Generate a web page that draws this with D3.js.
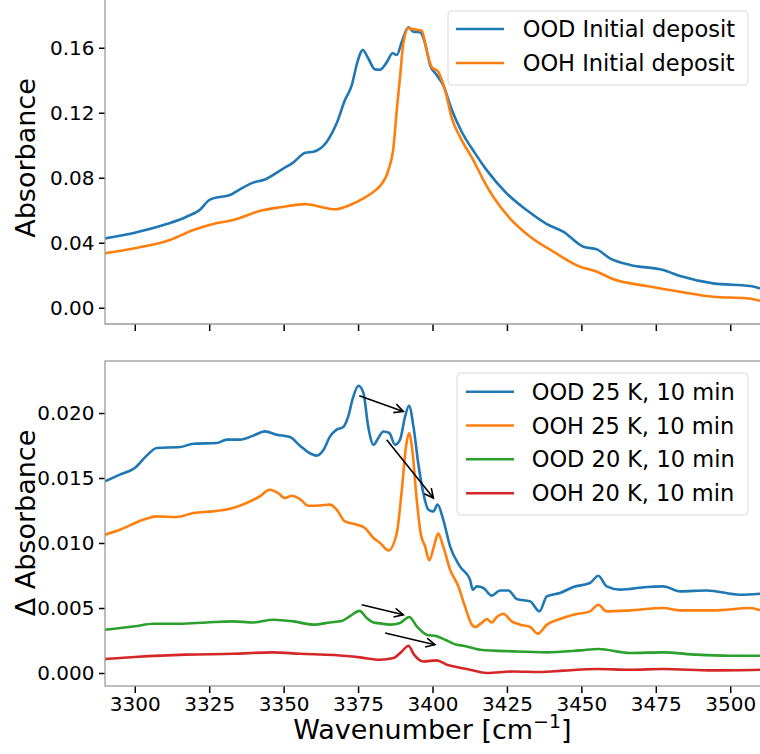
<!DOCTYPE html>
<html>
<head>
<meta charset="utf-8">
<script src="https://cdn.jsdelivr.net/npm/d3@7"></script>
<style>
  body { margin: 0; background: #fff; }
  svg { display: block; font-family: "DejaVu Sans", sans-serif; }
</style>
</head>
<body>
<div id="chart"></div>
<script>
// Top panel: initial deposits, [wavenumber, absorbance]
const oodInitial = [
  [3290, 0.0427], [3300, 0.0462], [3310.7, 0.0515], [3317.4, 0.056], [3322, 0.0605],
  [3325, 0.0663], [3326.3, 0.0673], [3332, 0.0694], [3335.3, 0.0729], [3339.8, 0.077],
  [3343.2, 0.0786], [3350, 0.0858], [3353.3, 0.0895], [3357.3, 0.0954], [3360, 0.096],
  [3364.5, 0.1022], [3367.8, 0.1135], [3370.6, 0.1278], [3372.9, 0.137], [3374.6, 0.150],
  [3376.6, 0.1586], [3378.4, 0.1535], [3380.7, 0.1467], [3382.4, 0.1465], [3384.6, 0.151],
  [3386.6, 0.1566], [3388, 0.1555], [3389.7, 0.1637], [3391.9, 0.1726], [3393.6, 0.1698],
  [3395.8, 0.1695], [3397.5, 0.1627], [3399.2, 0.1494], [3401.4, 0.1432], [3403.6, 0.137],
  [3406.5, 0.1217], [3409.8, 0.1083], [3414.3, 0.095], [3418.2, 0.0847], [3424.9, 0.0704],
  [3431.6, 0.0601], [3438.4, 0.0515], [3443.9, 0.0468], [3450.7, 0.0375], [3455.2, 0.0359],
  [3459.6, 0.0304], [3466.4, 0.0263], [3477.5, 0.0232], [3483.2, 0.0195], [3494.3, 0.015],
  [3506.7, 0.0134], [3510, 0.0119]
];
const oohInitial = [
  [3290, 0.0335], [3300, 0.0366], [3311.8, 0.0417], [3319.7, 0.0478], [3326.3, 0.0515],
  [3333, 0.054], [3343.2, 0.0601], [3348.8, 0.0618], [3357.3, 0.0638], [3362.2, 0.0622],
  [3367.3, 0.0606], [3372.3, 0.0632], [3376.8, 0.0673], [3380.2, 0.0714], [3382.4, 0.075],
  [3385.2, 0.0847], [3386.9, 0.099], [3388, 0.1217], [3389.1, 0.1421], [3390.2, 0.1627],
  [3391.9, 0.172], [3394.1, 0.1713], [3396.4, 0.1705], [3398, 0.1586], [3399.7, 0.1483],
  [3401.9, 0.1452], [3404.2, 0.134], [3406.5, 0.1166], [3409.8, 0.1032], [3413.7, 0.0909],
  [3417.1, 0.0786], [3420.4, 0.0683], [3426, 0.055], [3432.8, 0.0437], [3440.6, 0.0345],
  [3449.6, 0.0252], [3455.2, 0.0222], [3460.8, 0.0175], [3472, 0.0134], [3483.2, 0.0098],
  [3494.3, 0.0068], [3505.5, 0.0058], [3510, 0.0043]
];

// Bottom panel: difference spectra, [wavenumber, delta absorbance]
const ood25 = [
  [3290, 0.01474], [3295, 0.01526], [3300, 0.01577], [3304, 0.01672], [3307.4, 0.01731],
  [3315.2, 0.01738], [3319.7, 0.01764], [3327.5, 0.01769], [3330.9, 0.01795], [3335.3, 0.01795],
  [3339.8, 0.01826], [3343.7, 0.01859], [3347.7, 0.01833], [3352.1, 0.01815], [3355.5, 0.01749],
  [3358.3, 0.01697], [3361.1, 0.01672], [3363.3, 0.01713], [3365.6, 0.0182], [3367.8, 0.01872],
  [3370, 0.01892], [3371.7, 0.01974], [3373.2, 0.02110], [3375.1, 0.02210], [3376.8, 0.02154],
  [3378.4, 0.01897], [3380.2, 0.01756], [3381.8, 0.01808], [3383.5, 0.01858], [3385.5, 0.01846],
  [3387.4, 0.01756], [3389.1, 0.01795], [3390.8, 0.01974], [3392.1, 0.02056], [3393.6, 0.01897],
  [3395.2, 0.01615], [3396.9, 0.01385], [3398.6, 0.01256], [3400.3, 0.01243], [3401.7, 0.01295],
  [3403.6, 0.01180], [3405.9, 0.00974], [3409.2, 0.0082], [3412.6, 0.00718], [3413.5, 0.00641],
  [3414.9, 0.00666], [3417.1, 0.00654], [3419.9, 0.00595], [3422.7, 0.00635], [3425.5, 0.00635],
  [3428.3, 0.00569], [3432.8, 0.00551], [3435.9, 0.00474], [3438.4, 0.00589], [3442.8, 0.00615],
  [3447.3, 0.00662], [3452.9, 0.00692], [3455.7, 0.00748], [3458.5, 0.00666], [3463, 0.00641],
  [3472, 0.00662], [3477.5, 0.00666], [3483.2, 0.00628], [3492.1, 0.00635], [3503.3, 0.00602],
  [3510, 0.0061]
];
const ooh25 = [
  [3290, 0.01064], [3295, 0.01102], [3302.9, 0.01179], [3307.4, 0.01205], [3314, 0.012],
  [3319.7, 0.01231], [3326.3, 0.01243], [3333, 0.01269], [3337.5, 0.01308], [3342, 0.01359],
  [3345.3, 0.0141], [3348.1, 0.01385], [3350.4, 0.01346], [3352.7, 0.01364], [3355.5, 0.01338],
  [3358.3, 0.01287], [3362.2, 0.01289], [3365.6, 0.01295], [3367.8, 0.01256], [3370.6, 0.01166],
  [3374.6, 0.01141], [3377.3, 0.01115], [3380.2, 0.01038], [3382.4, 0.0100], [3385.2, 0.00943],
  [3388, 0.01077], [3389.7, 0.0141], [3391.1, 0.01743], [3392.1, 0.01846], [3393.2, 0.01718],
  [3394.7, 0.01333], [3396, 0.01077], [3397.5, 0.00974], [3398.9, 0.00866], [3400.5, 0.00974],
  [3401.9, 0.01072], [3403.6, 0.00974], [3405.9, 0.00795], [3408.7, 0.00666], [3410.9, 0.00512],
  [3413.2, 0.00372], [3414.3, 0.00354], [3416.5, 0.00385], [3418.2, 0.00415], [3419.9, 0.00389],
  [3421.6, 0.00431], [3423.8, 0.00456], [3426.6, 0.00397], [3429.4, 0.00372], [3432.8, 0.00354],
  [3435.4, 0.00302], [3438.4, 0.00372], [3442.8, 0.00415], [3447.3, 0.00448], [3452.9, 0.00474],
  [3455.7, 0.00525], [3458.5, 0.00474], [3466.4, 0.00482], [3477.5, 0.005], [3483.2, 0.00482],
  [3494.3, 0.00482], [3506.7, 0.005], [3510, 0.00482]
];
const ood20 = [
  [3290, 0.00333], [3300, 0.00359], [3306.2, 0.00379], [3315.2, 0.00379], [3324.1, 0.00389],
  [3333, 0.00397], [3339.8, 0.00389], [3346.5, 0.0041], [3353.3, 0.00397], [3360, 0.00372],
  [3365.6, 0.00389], [3369.5, 0.00400], [3372.3, 0.00438], [3375.5, 0.00478], [3377.9, 0.00423],
  [3380.2, 0.00389], [3382.4, 0.00382], [3385.7, 0.00372], [3389.1, 0.00385], [3392.2, 0.00431],
  [3394.7, 0.00359], [3398, 0.00295], [3401.4, 0.00282], [3404.8, 0.00250], [3408.1, 0.00218],
  [3410.4, 0.0021], [3416, 0.00179], [3427.2, 0.00166], [3438.4, 0.00159], [3449.6, 0.00174],
  [3455.7, 0.00185], [3466.4, 0.00154], [3477.5, 0.00159], [3488.7, 0.00141], [3499.9, 0.00133],
  [3510, 0.00133]
];
const ooh20 = [
  [3290, 0.00108], [3300, 0.00123], [3317, 0.00141], [3333, 0.00148], [3346.2, 0.00159],
  [3355.5, 0.00148], [3367, 0.00138], [3375.7, 0.00120], [3382.4, 0.00102], [3386.9, 0.00115],
  [3389.7, 0.00166], [3391.9, 0.0021], [3393.8, 0.00141], [3396.9, 0.00089], [3401.4, 0.00097],
  [3404.8, 0.00064], [3408.1, 0.00046], [3412.6, 0.00025], [3418.2, 0.0], [3427.2, 0.00012],
  [3436.2, 0.00008], [3444, 0.00018], [3455.2, 0.00031], [3466.4, 0.00025], [3477.5, 0.00031],
  [3494.3, 0.0002], [3510, 0.00025]
];

// Arrow annotations in the bottom panel: [x0, y0, x1, y1]
const arrows = [
  [3375.4, 0.02133, 3390.2, 0.02012],
  [3384.6, 0.01795, 3400.3, 0.01346],
  [3376.2, 0.00525, 3390.2, 0.00448],
  [3384.1, 0.00308, 3400.8, 0.00218]
];

const topLabels = ["OOD Initial deposit", "OOH Initial deposit"];
const bottomLabels = ["OOD 25 K, 10 min", "OOH 25 K, 10 min", "OOD 20 K, 10 min", "OOH 20 K, 10 min"];
const colors = ["#1f77b4", "#ff7f0e", "#2ca02c", "#d62728"];
const xTicks = [3300, 3325, 3350, 3375, 3400, 3425, 3450, 3475, 3500];
const topYTicks = [0.00, 0.04, 0.08, 0.12, 0.16];
const bottomYTicks = [0.000, 0.005, 0.010, 0.015, 0.020];

const width = 760, height = 754;
const left = 105, right = 760;
const FONT = "DejaVu Sans";

const svg = d3.select("#chart").append("svg")
  .attr("width", width)
  .attr("height", height);

const x = d3.scaleLinear().domain([3290, 3510]).range([left, right]);
const yTop = d3.scaleLinear().domain([-0.01, 0.19]).range([324, -1]);
const yBot = d3.scaleLinear().domain([-0.001, 0.024]).range([686, 361]);

// clip regions for each panel
const defs = svg.append("defs");
defs.append("clipPath").attr("id", "clipTop").append("rect")
  .attr("x", left).attr("y", -1).attr("width", right - left).attr("height", 325);
defs.append("clipPath").attr("id", "clipBot").append("rect")
  .attr("x", left).attr("y", 361).attr("width", right - left).attr("height", 325);

// open arrow head
defs.append("marker")
  .attr("id", "head")
  .attr("viewBox", "-12 -7 14 14")
  .attr("refX", 0).attr("refY", 0)
  .attr("markerWidth", 14).attr("markerHeight", 14)
  .attr("markerUnits", "userSpaceOnUse")
  .attr("orient", "auto")
  .append("path")
  .attr("d", "M-9,-4.5L0,0L-9,4.5")
  .attr("fill", "none")
  .attr("stroke", "#000")
  .attr("stroke-width", 1.6);

function styleAxis(g) {
  g.attr("font-family", FONT).attr("font-size", 20);
  g.select(".domain").remove();
  g.selectAll(".tick line").attr("stroke", "#000").attr("stroke-width", 1.5);
  g.selectAll(".tick text").attr("fill", "#000");
}

function lineGen(y) {
  return d3.line()
    .x(d => x(d[0]))
    .y(d => y(d[1]))
    .curve(d3.curveMonotoneX);
}

// ---------- top panel ----------
svg.append("g")
  .attr("transform", `translate(${left},0)`)
  .call(d3.axisLeft(yTop).tickValues(topYTicks).tickFormat(d3.format(".2f")).tickSize(6).tickPadding(4.5))
  .call(styleAxis);

svg.append("g")
  .attr("transform", "translate(0,324)")
  .call(d3.axisBottom(x).tickValues(xTicks).tickFormat("").tickSize(7))
  .call(styleAxis);

const topG = svg.append("g").attr("clip-path", "url(#clipTop)");
[oodInitial, oohInitial].forEach((s, i) => {
  topG.append("path")
    .datum(s)
    .attr("d", lineGen(yTop))
    .attr("fill", "none")
    .attr("stroke", colors[i])
    .attr("stroke-width", 2.6)
    .attr("stroke-linejoin", "round");
});

// spines (gray)
svg.append("path")
  .attr("d", `M${left},-1V324H${right}`)
  .attr("fill", "none").attr("stroke", "#9a9a9a").attr("stroke-width", 1.3);

svg.append("text")
  .attr("transform", `translate(35,158) rotate(-90)`)
  .attr("text-anchor", "middle")
  .attr("font-family", FONT)
  .attr("font-size", 27)
  .text("Absorbance");

// ---------- bottom panel ----------
svg.append("g")
  .attr("transform", `translate(${left},0)`)
  .call(d3.axisLeft(yBot).tickValues(bottomYTicks).tickFormat(d3.format(".3f")).tickSize(6).tickPadding(4.5))
  .call(styleAxis);

svg.append("g")
  .attr("transform", "translate(0,686)")
  .call(d3.axisBottom(x).tickValues(xTicks).tickFormat(d3.format("d")).tickSize(7).tickPadding(4))
  .call(styleAxis);

const botG = svg.append("g").attr("clip-path", "url(#clipBot)");
[ood25, ooh25, ood20, ooh20].forEach((s, i) => {
  botG.append("path")
    .datum(s)
    .attr("d", lineGen(yBot))
    .attr("fill", "none")
    .attr("stroke", colors[i])
    .attr("stroke-width", 2.6)
    .attr("stroke-linejoin", "round");
});

svg.append("rect")
  .attr("x", left).attr("y", 361)
  .attr("width", right - left + 2).attr("height", 325)
  .attr("fill", "none").attr("stroke", "#9a9a9a").attr("stroke-width", 1.3);

botG.selectAll("line.arrow")
  .data(arrows)
  .join("line")
  .attr("class", "arrow")
  .attr("x1", d => x(d[0])).attr("y1", d => yBot(d[1]))
  .attr("x2", d => x(d[2])).attr("y2", d => yBot(d[3]))
  .attr("stroke", "#000")
  .attr("stroke-width", 1.6)
  .attr("marker-end", "url(#head)");

svg.append("text")
  .attr("transform", `translate(35,523) rotate(-90)`)
  .attr("text-anchor", "middle")
  .attr("font-family", FONT)
  .attr("font-size", 27)
  .text("Δ Absorbance");

const xLabel = svg.append("text")
  .attr("x", (left + right) / 2)
  .attr("y", 739)
  .attr("text-anchor", "middle")
  .attr("font-family", FONT)
  .attr("font-size", 27);
xLabel.append("tspan").text("Wavenumber [cm");
xLabel.append("tspan").attr("dy", -11).attr("font-size", 19).text("−1");
xLabel.append("tspan").attr("dy", 11).text("]");

// ---------- legends ----------
function drawLegend(box, labels, lineX0, lineX1, textX, rowY) {
  svg.append("rect")
    .attr("x", box.x).attr("y", box.y)
    .attr("width", box.w).attr("height", box.h)
    .attr("rx", 4)
    .attr("fill", "#fff").attr("fill-opacity", 0.8)
    .attr("stroke", "#d9d9d9").attr("stroke-width", 1);
  labels.forEach((lab, i) => {
    const yy = rowY[i];
    svg.append("line")
      .attr("x1", lineX0).attr("x2", lineX1)
      .attr("y1", yy).attr("y2", yy)
      .attr("stroke", colors[i]).attr("stroke-width", 2.6);
    svg.append("text")
      .attr("x", textX).attr("y", yy)
      .attr("dy", "0.36em")
      .attr("font-family", FONT)
      .attr("font-size", 22.5)
      .text(lab);
  });
}

drawLegend({ x: 448, y: 11, w: 300, h: 74 }, topLabels, 456, 504, 522.7, [29, 63]);
drawLegend({ x: 457, y: 373, w: 291, h: 142 }, bottomLabels, 466, 514, 531.7, [391.7, 425.5, 459.3, 493.3]);
</script>
</body>
</html>
